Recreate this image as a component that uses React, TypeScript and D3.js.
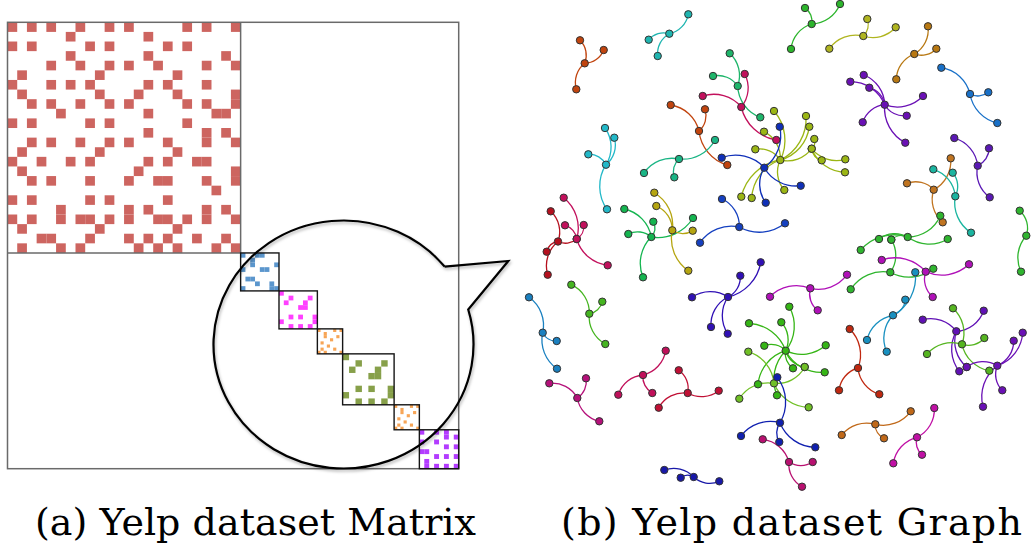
import * as d3 from 'd3';

// ---------- matrix data (a) ----------
// community sizes along the diagonal (in big-block cell units)
const blockSizes = [24, 3.95, 3.95, 2.6, 5.3, 2.6, 4.05];
const blockGrid = [24, 8, 8, 8, 8, 8, 8];
const blockColors = ['#cd6560', '#5b96cd', '#ff40ff', '#f7a556', '#87a04a', '#f7a556', '#b33cff'];

// filled columns per row
const bigRows = [
  [0, 2, 4, 7, 10, 12, 18, 20, 23],
  [6, 14],
  [0, 2, 8, 10, 16, 18],
  [6, 14, 22],
  [4, 7, 10, 12, 15, 20, 23],
  [1, 9, 17],
  [0, 4, 6, 8, 14, 16, 20],
  [1, 9, 13, 17, 23],
  [2, 4, 7, 10, 12, 18, 20, 23],
  [5, 14, 21, 22],
  [0, 2, 8, 10, 18],
  [14, 20, 22],
  [2, 4, 7, 10, 12, 16, 20, 23],
  [1, 9, 17],
  [0, 3, 6, 8, 14, 16, 19, 20],
  [1, 13, 23],
  [2, 4, 8, 12, 15, 16, 20, 23],
  [21],
  [0, 2, 8, 10, 16],
  [5, 12, 14, 20, 22],
  [0, 2, 5, 7, 8, 10, 12, 15, 16, 18, 20, 23],
  [1, 9, 17],
  [3, 4, 8, 12, 14, 16, 19, 22],
  [1, 5, 7, 13, 15, 17, 21, 23],
];
const blueRows = [[0, 3, 4], [2], [2, 7], [0, 4, 5], [], [1, 2], [3, 6], [0, 6, 7]];
const magentaRows = [[0], [2, 6], [1, 5], [4, 5], [], [2, 4, 7], [0, 7], [2, 4, 6]];
const orangeRows = [[0, 5, 7], [2], [2, 6], [4], [1], [3], [1, 5], [0, 2, 7]];
const greenRows = [[0], [2, 6], [1, 5], [4, 5], [], [2, 4, 7], [0, 7], [2, 4, 6]];
const orangeRows2 = [[0, 5, 7], [2], [2, 6], [4], [1], [3], [1, 5], [0, 2, 7]];
const purpleRows = [[0, 3, 5], [5, 7], [0, 3], [5, 7], [0, 1], [3, 5, 7], [1], [1, 3, 5, 7]];
const blockCells = [bigRows, blueRows, magentaRows, orangeRows, greenRows, orangeRows2, purpleRows];

// ---------- graph data (b) ----------
// each community: [hub, ...leaves] in layout coordinates
const communities: number[][][] = [
  [[64.7, 63.3], [60, 40.3], [83.7, 50], [56.3, 89.3]],
  [[149.3, 33.7], [168.3, 14.3], [128.7, 39.7], [137.7, 56]],
  [[86, 164.7], [85, 128], [94.3, 137.7], [68.3, 154.3], [87, 209.3]],
  [[217.7, 86], [209.7, 53.3], [193, 76], [240.3, 117.3]],
  [[221.3, 107], [224.7, 74], [182.7, 96], [256.3, 140]],
  [[179, 131], [150.7, 105], [185, 109.3], [207.3, 165]],
  [[159, 159], [195, 140], [124, 173], [154.3, 177.3]],
  [[260.3, 160], [254, 111], [244, 131.7], [286, 116], [289.3, 126.7], [235.3, 149.3], [221.3, 196.7], [231.7, 198], [264.3, 190], [291.7, 148.7]],
  [[291.7, 148.7], [294.3, 139], [301.7, 160.3], [325.3, 159.3], [325, 172.3]],
  [[244.3, 167.7], [259.7, 126.7], [201.7, 157.7], [280.7, 185.7], [245.7, 202.7]],
  [[38, 241.5], [30.7, 211.3], [26.7, 251.7], [27.7, 274.7], [56.7, 239]],
  [[56.7, 239], [43.7, 197.7], [45, 225.3], [63.7, 225], [87.7, 265.3]],
  [[131.3, 237], [104.3, 209], [108.3, 234], [133.3, 221.7], [173, 218], [123, 277.3]],
  [[152.3, 230.3], [134.3, 192.7], [136.3, 206], [172.7, 230.7], [168.3, 270.7]],
  [[219.3, 227], [202, 199], [180, 242.7], [265, 223.3]],
  [[291.7, 24], [285, 8], [271, 49], [320, 4]],
  [[343.3, 36], [347.3, 19], [375.7, 27.3], [309.3, 48.7]],
  [[394.3, 54], [408, 26.3], [416.3, 48.7], [376.3, 79.3]],
  [[364.7, 104.7], [330.3, 81.7], [343.7, 75], [349.3, 87.7], [403, 96], [386.7, 115.7], [342.7, 122.3], [385.3, 142.7]],
  [[450, 94], [421.3, 67.7], [468.3, 92.3], [477.3, 123]],
  [[457.7, 165.7], [434.3, 138], [469, 148.3], [469.7, 197.3]],
  [[413.7, 189.7], [387, 183.3], [430.7, 158.3], [422.7, 222.3]],
  [[435.3, 196.3], [413.3, 169.3], [432.7, 172.7], [451, 232.7]],
  [[387.7, 237], [359, 239], [371.3, 239.7], [427.7, 239], [420.3, 215.7], [340.7, 250]],
  [[370.3, 272.3], [330.7, 289.3], [413.3, 268.7], [371.3, 239.7]],
  [[506.3, 235.7], [499.7, 210.7], [501, 271.7]],
  [[69.3, 313.7], [51.3, 284.7], [82.3, 301.7], [85.3, 344]],
  [[22.7, 332.7], [9, 297.3], [36.7, 341], [37, 368.7]],
  [[57.3, 398], [29.3, 383.3], [66, 378.3], [79.3, 421.3]],
  [[123, 375], [145.7, 350.7], [98.3, 394.7], [132.3, 393]],
  [[167.7, 393], [158.7, 370.3], [198.7, 390.7], [138.7, 407.7]],
  [[208, 297], [220.3, 275.7], [240.7, 262.3], [172, 297.3], [191, 327], [207.7, 333.7]],
  [[173.7, 477], [144.3, 470], [160.7, 477.7], [199.3, 481.3]],
  [[265.7, 350.7], [269.3, 306.7], [261.3, 322.3], [229, 323.3], [244.3, 345.7], [305.7, 345.3], [273, 368.3], [304.7, 372.3], [284.7, 367], [238, 384.3], [257, 395.3]],
  [[254, 383.3], [228.3, 351.7], [219.3, 398.7], [288.7, 407.3], [284.7, 367]],
  [[260, 422.7], [257.3, 377.3], [221, 436], [259.3, 442], [295.3, 447.3]],
  [[269, 462], [242.7, 439.3], [292.7, 462], [282, 486.7]],
  [[290.3, 288.3], [250, 296.7], [327, 274.7], [297.7, 310.3]],
  [[405.7, 271.7], [361.7, 260], [449, 264.3], [412.7, 297]],
  [[373, 315.3], [395.3, 272.3], [385.3, 299.7], [347, 340], [366.7, 351.7]],
  [[338, 368], [329.7, 329], [319, 390.3], [359.3, 394.3]],
  [[355.3, 424.3], [390.7, 411.3], [321.7, 435], [364, 438.3]],
  [[397, 437.3], [414.3, 408], [402, 454.7], [373.3, 463.3]],
  [[436.3, 331.3], [402.7, 319.7], [463.7, 310.7], [446.7, 367], [439.3, 371.3]],
  [[442, 344.3], [433, 308.3], [464.3, 338], [407, 354], [469.3, 370.7]],
  [[477.3, 365.7], [493.7, 340.7], [502.7, 332.7], [482.3, 390.3], [463, 406.7], [446.7, 367]],
];
const communityColors = [
  '#c1440e', '#1fb5b0', '#22b8c8', '#1db56a', '#c2105c', '#c1440e', '#1ab585',
  '#9bb614', '#9bb614', '#0f2fb8', '#b5101e', '#c2105c', '#14b550', '#b5a510',
  '#1540c0', '#2cb52c', '#b0b520', '#b87812', '#6a10b5', '#1870c8', '#5a18b5',
  '#c07420', '#1ab5a0', '#2fb52f', '#2fb52f', '#2fb52f', '#45b520', '#1a80c0',
  '#b5107a', '#c0105a', '#c01035', '#3010b5', '#1818a8', '#35b515', '#70c025',
  '#1020b0', '#b81070', '#b010b8', '#b010b8', '#1890c0', '#c02810', '#c06818',
  '#c010a5', '#6010b5', '#55b520', '#6a10b5',
];

const captions = ['(a) Yelp dataset Matrix', '(b) Yelp dataset Graph'];

const W = 1031;
const H = 544;

export default function App() {
  // matrix scales
  const total = d3.sum(blockSizes);
  const mx = d3.scaleLinear().domain([0, total]).range([7.5, 458.7]);
  const my = d3.scaleLinear().domain([0, total]).range([22.3, 468.7]);
  const starts = blockSizes.map((_, i) => d3.sum(blockSizes.slice(0, i)));

  const blocks = blockSizes.map((s, i) => {
    const x0 = mx(starts[i]);
    const x1 = mx(starts[i] + s);
    const y0 = my(starts[i]);
    const y1 = my(starts[i] + s);
    const bx = d3.scaleBand<number>().domain(d3.range(blockGrid[i])).range([x0, x1]);
    const by = d3.scaleBand<number>().domain(d3.range(blockGrid[i])).range([y0, y1]);
    const cells: { x: number; y: number; w: number; h: number }[] = [];
    blockCells[i].forEach((row, r) =>
      row.forEach((c) => cells.push({ x: bx(c)!, y: by(r)!, w: bx.bandwidth(), h: by.bandwidth() }))
    );
    return { x0, x1, y0, y1, cells, color: blockColors[i] };
  });

  // callout bubble
  const cx = 343.5, cy = 344.5, rx = 130, ry = 124;
  const aAng = -0.68, bAng = -0.286;
  const A = [cx + rx * Math.cos(aAng), cy + ry * Math.sin(aAng)];
  const B = [cx + rx * Math.cos(bAng), cy + ry * Math.sin(bAng)];
  const tip = [508.3, 261];
  const bubble = `M${A[0]},${A[1]} L${tip[0]},${tip[1]} L${B[0]},${B[1]} A${rx},${ry} 0 1 1 ${A[0]},${A[1]}`;

  // graph scales
  const gx = d3.scaleLinear().domain([0, 511]).range([520, 1031]);
  const gy = d3.scaleLinear().domain([0, 490]).range([0, 490]);

  const edges: { d: string; color: string }[] = [];
  const nodes: { x: number; y: number; color: string }[] = [];
  communities.forEach((com, ci) => {
    const color = communityColors[ci];
    const [hx, hy] = [gx(com[0][0]), gy(com[0][1])];
    nodes.push({ x: hx, y: hy, color });
    com.slice(1).forEach(([lx0, ly0]) => {
      const lx = gx(lx0), ly = gy(ly0);
      const r = Math.hypot(lx - hx, ly - hy) * 0.9;
      edges.push({ d: `M${hx},${hy} A${r},${r} 0 0 0 ${lx},${ly}`, color });
      nodes.push({ x: lx, y: ly, color });
    });
  });

  const captionStyle = { fontFamily: '"DejaVu Serif", serif', fontSize: 38 };

  return (
    <svg width={W} height={H} style={{ position: 'absolute', left: 0, top: 0, background: '#fff' }}>
      <defs>
        <filter id="shadow" x="-10%" y="-10%" width="130%" height="130%">
          <feDropShadow dx="1" dy="2" stdDeviation="1.5" floodColor="#000" floodOpacity="0.3" />
        </filter>
      </defs>

      {/* matrix cells */}
      {blocks.map((b, i) => (
        <g key={i}>
          {b.cells.map((c, j) => (
            <rect key={j} x={c.x} y={c.y} width={c.w} height={c.h} fill={b.color} />
          ))}
        </g>
      ))}
      <rect x={mx(0)} y={my(0)} width={mx(total) - mx(0)} height={my(total) - my(0)} fill="none" stroke="#6a6a6a" strokeWidth={1.5} />
      <line x1={blocks[0].x1} y1={blocks[0].y0} x2={blocks[0].x1} y2={blocks[0].y1} stroke="#6a6a6a" strokeWidth={1.5} />
      <line x1={blocks[0].x0} y1={blocks[0].y1} x2={blocks[0].x1} y2={blocks[0].y1} stroke="#6a6a6a" strokeWidth={1.5} />
      {blocks.slice(1).map((b, i) => (
        <rect key={i} x={b.x0} y={b.y0} width={b.x1 - b.x0} height={b.y1 - b.y0} fill="none" stroke="#151515" strokeWidth={1.4} />
      ))}
      <path d={bubble} fill="none" stroke="#000" strokeWidth={2.2} strokeLinejoin="miter" filter="url(#shadow)" />

      {/* graph */}
      <g fill="none" strokeWidth={1.3}>
        {edges.map((e, i) => (
          <path key={i} d={e.d} stroke={e.color} />
        ))}
      </g>
      <g stroke="#333" strokeWidth={1}>
        {nodes.map((n, i) => (
          <circle key={i} cx={n.x} cy={n.y} r={3.7} fill={n.color} />
        ))}
      </g>

      {/* captions */}
      <text x={35} y={535} style={captionStyle} textLength={441} lengthAdjust="spacing" fill="#000">
        {captions[0]}
      </text>
      <text x={561} y={535} style={captionStyle} textLength={461} lengthAdjust="spacing" fill="#000">
        {captions[1]}
      </text>
    </svg>
  );
}
